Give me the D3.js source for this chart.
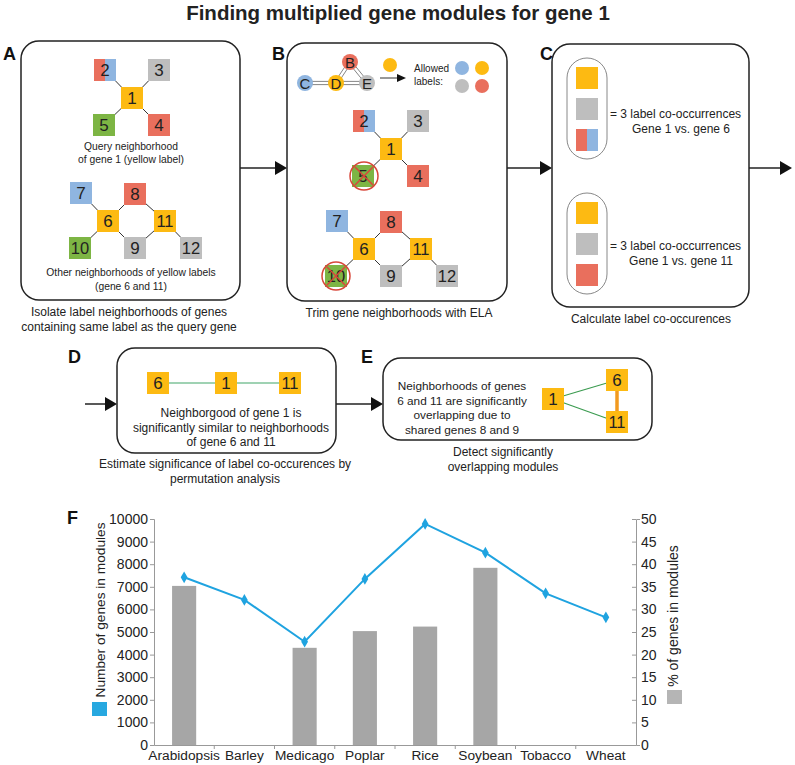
<!DOCTYPE html>
<html><head><meta charset="utf-8">
<script src="https://cdn.jsdelivr.net/npm/d3@7"></script>
<style>
body{margin:0;background:#fff;}
svg{display:block;font-family:"Liberation Sans",Arial,sans-serif;}
</style></head>
<body>
<svg id="fig" width="795" height="765"></svg>
<script>
// ---------- chart data (panel F) ----------
const categories = ["Arabidopsis","Barley","Medicago","Poplar","Rice","Soybean","Tobacco","Wheat"];
const genesInModules = [7420, 6420, 4570, 7350, 9780, 8510, 6710, 5650];
const pctInModules = [35.2, null, 21.5, 25.2, 26.2, 39.2, null, null];
const leftTicks = [0,1000,2000,3000,4000,5000,6000,7000,8000,9000,10000];
const rightTicks = [0,5,10,15,20,25,30,35,40,45,50];

// ---------- diagram content ----------
const upperGraph = [ {id:"1",c:"y",dx:0,dy:0},{id:"2",c:"rb",dx:-27,dy:-28},{id:"3",c:"g",dx:27,dy:-28},{id:"5",c:"gr",dx:-28,dy:27},{id:"4",c:"r",dx:27,dy:27} ];
const upperEdges = [["1","2"],["1","3"],["1","5"],["1","4"]];
const lowerGraph = [ {id:"6",c:"y",dx:0,dy:0},{id:"7",c:"b",dx:-27,dy:-28},{id:"8",c:"r",dx:27,dy:-27},{id:"11",c:"y",dx:57,dy:0},{id:"10",c:"gr",dx:-28,dy:27},{id:"9",c:"g",dx:27,dy:27},{id:"12",c:"g",dx:83,dy:27} ];
const lowerEdges = [["6","7"],["6","8"],["8","11"],["11","12"],["6","10"],["6","9"],["9","11"]];

const COL = {y:"#FDBA12", g:"#BEBEBE", r:"#E96F5D", b:"#8FB5E0", gr:"#7DB544"};
const TXT = "#222";

const svg = d3.select("#fig");

// title
svg.append("text").attr("x",398).attr("y",20).attr("text-anchor","middle")
  .attr("font-size",20.5).attr("font-weight","bold").attr("fill",TXT)
  .text("Finding multiplied gene modules for gene 1");

function panelLabel(t,x,y){
  svg.append("text").attr("x",x).attr("y",y).attr("font-size",18).attr("font-weight","bold").attr("fill","#111").text(t);
}
function box(x,y,w,h){
  svg.append("rect").attr("x",x).attr("y",y).attr("width",w).attr("height",h).attr("rx",18)
    .attr("fill","#fff").attr("stroke","#222").attr("stroke-width",1.5);
}
function arrow(x1,x2,y){
  svg.append("line").attr("x1",x1).attr("x2",x2-10).attr("y1",y).attr("y2",y).attr("stroke","#222").attr("stroke-width",1.5);
  svg.append("path").attr("d",`M${x2},${y} L${x2-12},${y-7} L${x2-12},${y+7} Z`).attr("fill","#111");
}
function lines(arr,x,y,size,lh,anchor){
  const t = svg.append("text").attr("x",x).attr("y",y).attr("font-size",size).attr("fill",TXT).attr("text-anchor",anchor||"middle");
  arr.forEach((s,i)=>t.append("tspan").attr("x",x).attr("y",y+i*lh).text(s));
}
function square(g,cx,cy,c,label,s){
  s = s||22;
  if(c==="rb"){
    g.append("rect").attr("x",cx-s/2).attr("y",cy-s/2).attr("width",s/2).attr("height",s).attr("fill",COL.r);
    g.append("rect").attr("x",cx).attr("y",cy-s/2).attr("width",s/2).attr("height",s).attr("fill",COL.b);
  } else {
    g.append("rect").attr("x",cx-s/2).attr("y",cy-s/2).attr("width",s).attr("height",s).attr("fill",COL[c]);
  }
  if(label) g.append("text").attr("x",cx).attr("y",cy+6).attr("text-anchor","middle").attr("font-size",label.length>1?16.5:17).attr("fill",TXT).text(label);
}
function graph(nodes,edges,ox,oy){
  const g = svg.append("g");
  const pos = {}; nodes.forEach(n=>pos[n.id]=[ox+n.dx,oy+n.dy]);
  edges.forEach(e=>g.append("line").attr("x1",pos[e[0]][0]).attr("y1",pos[e[0]][1]).attr("x2",pos[e[1]][0]).attr("y2",pos[e[1]][1]).attr("stroke","#333").attr("stroke-width",1));
  nodes.forEach(n=>square(g,pos[n.id][0],pos[n.id][1],n.c,n.id));
  return pos;
}
function crossOut(cx,cy){
  const r=14, k=9;
  svg.append("circle").attr("cx",cx).attr("cy",cy).attr("r",r).attr("fill","none").attr("stroke","#D8473A").attr("stroke-width",1.5);
  svg.append("path").attr("d",`M${cx-k},${cy-k}L${cx+k},${cy+k}M${cx+k},${cy-k}L${cx-k},${cy+k}`).attr("stroke","#D8473A").attr("stroke-width",1.5);
}

// ---- Panel A ----
panelLabel("A",3,60);
box(21,41,219,259);
graph(upperGraph,upperEdges,132,98);
lines(["Query neighborhood","of gene 1 (yellow label)"],131,150,10.3,12.5);
graph(lowerGraph,lowerEdges,108,221);
lines(["Other neighborhoods of yellow labels","(gene 6 and 11)"],131,276,10.3,13.5);
lines(["Isolate label neighborhoods of genes","containing same label as the query gene"],129,316,12,14.5);

arrow(240,287,168);

// ---- Panel B ----
panelLabel("B",272,60);
box(287,43,220,258);
// small ELA network
const ela = [{id:"B",c:"r",x:350,y:62},{id:"C",c:"b",x:305,y:83},{id:"D",c:"y",x:336,y:83},{id:"E",c:"g",x:367,y:83}];
const ep = {}; ela.forEach(n=>ep[n.id]=n);
[["C","D"],["D","E"],["D","B"],["B","E"]].forEach(e=>{
  const a=ep[e[0]], b=ep[e[1]];
  const dx=b.x-a.x, dy=b.y-a.y, L=Math.hypot(dx,dy), nx=-dy/L*1.6, ny=dx/L*1.6;
  [-1,1].forEach(s=>svg.append("line").attr("x1",a.x+nx*s).attr("y1",a.y+ny*s).attr("x2",b.x+nx*s).attr("y2",b.y+ny*s).attr("stroke","#777").attr("stroke-width",0.9));
});
ela.forEach(n=>{
  svg.append("circle").attr("cx",n.x).attr("cy",n.y).attr("r",8).attr("fill",COL[n.c]);
  svg.append("text").attr("x",n.x).attr("y",n.y+5.5).attr("text-anchor","middle").attr("font-size",15).attr("fill",TXT).text(n.id);
});
svg.append("circle").attr("cx",390).attr("cy",65).attr("r",7).attr("fill",COL.y);
svg.append("line").attr("x1",380).attr("x2",398).attr("y1",78).attr("y2",78).attr("stroke","#333").attr("stroke-width",1);
svg.append("path").attr("d","M406,78 L397,74 L397,82 Z").attr("fill","#111");
lines(["Allowed","labels:"],414,72,10,12.5,"start");
[["b",462,68],["y",482,68],["g",462,86],["r",482,86]].forEach(d=>svg.append("circle").attr("cx",d[1]).attr("cy",d[2]).attr("r",7).attr("fill",COL[d[0]]));
graph(upperGraph,upperEdges,391,149);
crossOut(364,176);
graph(lowerGraph,lowerEdges,364,249);
crossOut(336,276);
lines(["Trim gene neighborhoods with ELA"],399,317,12,14);

arrow(507,552,168);

// ---- Panel C ----
panelLabel("C",540,60);
box(552,44,197,263);
[[58,[["y"],["g"],["rb"]],114,"Gene 1 vs. gene 6"],[193,[["y"],["g"],["r"]],246,"Gene 1 vs. gene 11"]].forEach(p=>{
  svg.append("rect").attr("x",567).attr("y",p[0]).attr("width",40).attr("height",101).attr("rx",20).attr("fill","none").attr("stroke","#888").attr("stroke-width",1);
  p[1].forEach((c,i)=>square(svg,587,p[0]+20+i*31,c[0],null));
  lines(["= 3 label co-occurrences"],610,p[2]+4,12,14,"start");
  lines([p[3]],681,p[2]+19,12,14);
});
lines(["Calculate label co-occurences"],651,323,12,14);

arrow(749,792,168);

// ---- Panel D ----
panelLabel("D",68,363);
arrow(85,117,404);
box(117,348,219,105);
svg.append("line").attr("x1",158).attr("x2",290).attr("y1",383).attr("y2",383).attr("stroke","#7FC39A").attr("stroke-width",1.3);
[["6",158],["1",226],["11",290]].forEach(d=>square(svg,d[1],383,"y",d[0]));
lines(["Neighborgood of gene 1 is","significantly similar to neighborhoods","of gene 6 and 11"],231,417,12,14.5);
lines(["Estimate significance of label co-occurences by","permutation analysis"],225,468,12,14.5);

arrow(336,383,404);

// ---- Panel E ----
panelLabel("E",361,363);
box(383,358,269,82);
lines(["Neighborhoods of genes","6 and 11 are significantly","overlapping due to","shared genes 8 and 9"],462,390,11.8,14.5);
svg.append("line").attr("x1",553).attr("y1",399).attr("x2",617).attr("y2",380).attr("stroke","#3B9B50").attr("stroke-width",1.2);
svg.append("line").attr("x1",553).attr("y1",399).attr("x2",617).attr("y2",422).attr("stroke","#3B9B50").attr("stroke-width",1.2);
svg.append("line").attr("x1",617).attr("y1",380).attr("x2",617).attr("y2",422).attr("stroke","#F29A1F").attr("stroke-width",3.5);
[["1",553,399],["6",617,380],["11",617,422]].forEach(d=>square(svg,d[1],d[2],"y",d[0]));
lines(["Detect significantly","overlapping modules"],503,456,12,14.5);

// ---- Panel F (chart) ----
panelLabel("F",67,524);
const x = d3.scaleBand().domain(categories).range([154,636]).padding(0);
const yL = d3.scaleLinear().domain([0,10000]).range([745,519]);
const yR = d3.scaleLinear().domain([0,50]).range([745,519]);
const AX = "#999";

const gL = svg.append("g").attr("transform","translate(154,0)")
  .call(d3.axisLeft(yL).tickValues(leftTicks).tickSize(4).tickPadding(2).tickFormat(d3.format("d")));
const gR = svg.append("g").attr("transform","translate(636,0)")
  .call(d3.axisRight(yR).tickValues(rightTicks).tickSize(4).tickPadding(1).tickFormat(d3.format("d")));
const gB = svg.append("g").attr("transform","translate(0,745)")
  .call(d3.axisBottom(x).tickSize(0).tickPadding(5));
[gL,gR,gB].forEach(g=>{
  g.selectAll("path,line").attr("stroke",AX);
  g.selectAll("text").attr("fill",TXT).attr("font-size",14).attr("font-family","Liberation Sans, Arial, sans-serif");
});
gB.selectAll("text").attr("font-size",13.7);
gR.selectAll(".tick line").attr("x2",-4);
// band boundary ticks
svg.append("g").selectAll("line").data(categories.slice(1)).join("line")
  .attr("x1",d=>x(d)).attr("x2",d=>x(d)).attr("y1",745).attr("y2",749).attr("stroke",AX);

// bars (% of genes, right axis)
const bw = x.bandwidth()*0.4;
svg.append("g").selectAll("rect").data(categories.map((c,i)=>({c,v:pctInModules[i]})).filter(d=>d.v!=null)).join("rect")
  .attr("x",d=>x(d.c)+x.bandwidth()/2-bw/2).attr("width",bw)
  .attr("y",d=>yR(d.v)).attr("height",d=>yR(0)-yR(d.v)).attr("fill","#A6A6A6");

// line (number of genes, left axis)
const LINE = "#1FA3E0";
const pts = categories.map((c,i)=>[x(c)+x.bandwidth()/2, yL(genesInModules[i])]);
svg.append("path").attr("d",d3.line()(pts)).attr("fill","none").attr("stroke",LINE).attr("stroke-width",2);
svg.append("g").selectAll("path").data(pts).join("path")
  .attr("transform",d=>`translate(${d[0]},${d[1]})`)
  .attr("d",d3.symbol().type(d3.symbolDiamond).size(40)).attr("fill",LINE);

// axis titles + legend swatches
svg.append("text").attr("transform","translate(105,610) rotate(-90)").attr("text-anchor","middle")
  .attr("font-size",13.7).attr("fill",TXT).text("Number of genes in modules");
svg.append("rect").attr("x",92).attr("y",702).attr("width",15).attr("height",14).attr("fill","#27A8E0");
svg.append("text").attr("transform","translate(678,616) rotate(-90)").attr("text-anchor","middle")
  .attr("font-size",14).attr("fill",TXT).text("% of genes in modules");
svg.append("rect").attr("x",667).attr("y",690).attr("width",15).attr("height",14).attr("fill","#B5B5B5");
</script>
</body></html>
